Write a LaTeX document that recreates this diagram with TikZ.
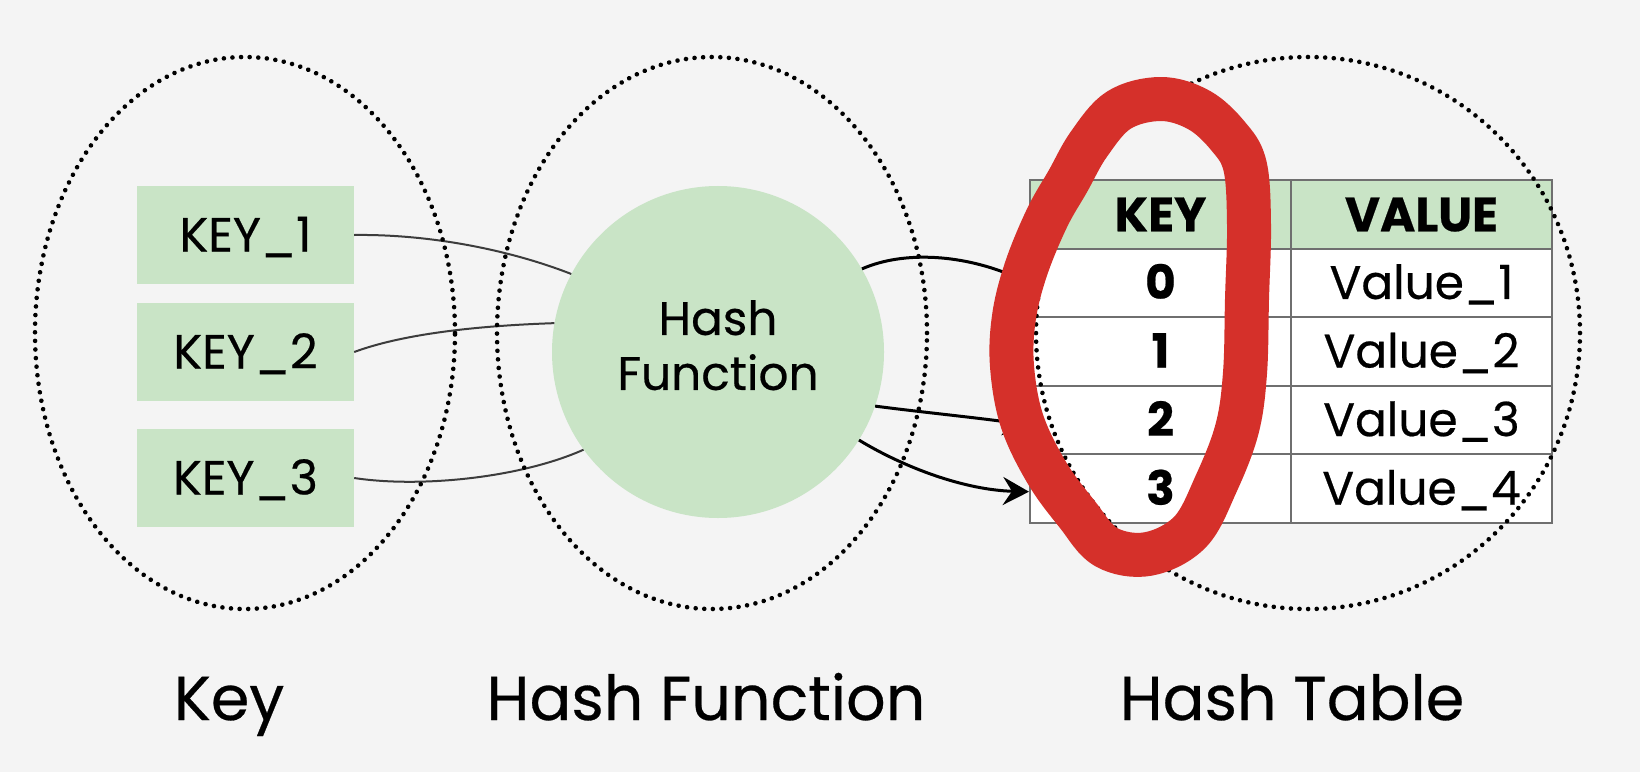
\documentclass[tikz,border=0pt]{standalone}
\usepackage{fontspec}
\setmainfont{Poppins}[FakeBold=0.45]
\usetikzlibrary{shapes.geometric,arrows.meta}
\definecolor{bg}{HTML}{F4F4F4}
\definecolor{keygreen}{HTML}{C9E4C6}
\definecolor{marker}{HTML}{D5302A}
\definecolor{gridline}{HTML}{6F6F6F}
\definecolor{wire}{HTML}{3C3C3C}

\begin{document}
\begin{tikzpicture}[x=1bp,y=-1bp,
  zone/.style={ellipse, draw=black, line width=4.6bp, line cap=round, dash pattern=on 0.01bp off 8.6bp, inner sep=0pt},
  keybox/.style={rectangle, fill=keygreen, minimum width=217bp, minimum height=98bp, inner sep=0pt,
    font=\fontsize{48bp}{56bp}\selectfont, text height=33bp, text depth=0bp},
  hashnode/.style={circle, fill=keygreen, minimum size=332bp, inner sep=0pt, align=center,
    font=\fontsize{47bp}{55bp}\selectfont, text depth=14bp},
  cell/.style={rectangle, draw=gridline, line width=2bp, minimum width=261bp, minimum height=68.6bp,
    inner sep=0pt, text height=32bp, text depth=0bp, font=\fontsize{47bp}{56bp}\selectfont},
  headcell/.style={cell, fill=keygreen, font=\fontsize{48bp}{56bp}\selectfont\bfseries, text height=34bp},
  bodycell/.style={cell, fill=white},
  caption/.style={anchor=base, font=\fontsize{62bp}{70bp}\selectfont},
  feed/.style={draw=wire, line width=2bp},
  hashout/.style={draw=black, line width=3bp, -{Stealth[length=26bp,width=28bp,inset=9bp]}},
  redmark/.style={draw=marker, line width=44bp, line cap=round, line join=round}
]
\useasboundingbox (0,0) rectangle (1640,772);
\fill[bg] (0,0) rectangle (1640,772);

% keys
\node[keybox] (k1) at (245.5,235) {KEY\_1};
\node[keybox] (k2) at (245.5,352) {KEY\_2};
\node[keybox] (k3) at (245.5,478) {KEY\_3};

% hash function
\node[hashnode] (hf) at (718,352) {Hash\\Function};

% hash table
\node[headcell] (th1) at (1160.5,214.3) {KEY};
\node[headcell] (th2) at (1421.5,214.3) {VALUE};
\node[bodycell] (r0k) at (1160.5,282.9) {\bfseries 0};
\node[bodycell] (r0v) at (1421.5,282.9) {Value\_1};
\node[bodycell] (r1k) at (1160.5,351.5) {\bfseries 1};
\node[bodycell] (r1v) at (1421.5,351.5) {Value\_2};
\node[bodycell] (r2k) at (1160.5,420.1) {\bfseries 2};
\node[bodycell] (r2v) at (1421.5,420.1) {Value\_3};
\node[bodycell] (r3k) at (1160.5,488.7) {\bfseries 3};
\node[bodycell] (r3v) at (1421.5,488.7) {Value\_4};

% keys into the hash function
\draw[feed] (k1.east) .. controls (430,234) and (510,250) .. (hf.152);
\draw[feed] (k2.east) .. controls (400,335) and (470,326) .. (hf.170);
\draw[feed] (k3.east) .. controls (420,488) and (520,478) .. (hf.216);

% hash function into table slots
\draw[hashout] (hf.30) .. controls (905,250) and (965,255) .. (r0k.west);
\draw[hashout] (hf.-19) .. controls (920,412) and (980,418) .. ([yshift=-5bp]r2k.west);
\draw[hashout] (hf.-32) .. controls (905,468) and (965,490) .. ([yshift=-3bp]r3k.west);

% dotted groups
\node[zone, minimum width=420bp, minimum height=552bp] (gkey) at (245,333) {};
\node[zone, minimum width=430bp, minimum height=552bp] (gfun) at (712,333) {};
\node[zone, minimum width=544bp, minimum height=552bp] (gtab) at (1308,333) {};

% hand-drawn highlight around the key column
\draw[redmark] plot[smooth cycle, tension=0.6] coordinates {
  (1161,99) (1199,110) (1228,136) (1245,166) (1249,225) (1247,299) (1245,373)
  (1237,429) (1216,484) (1190,532) (1148,554) (1106,547) (1077,514) (1047,473)
  (1022,421) (1012,366) (1014,317) (1026,269) (1047,218) (1068,181) (1089,144)
  (1119,110)};

% captions
\node[caption] (ckey) at (229,720) {Key};
\node[caption] (cfun) at (706,720) {Hash Function};
\node[caption] (ctab) at (1292,720) {Hash Table};
\end{tikzpicture}
\end{document}
